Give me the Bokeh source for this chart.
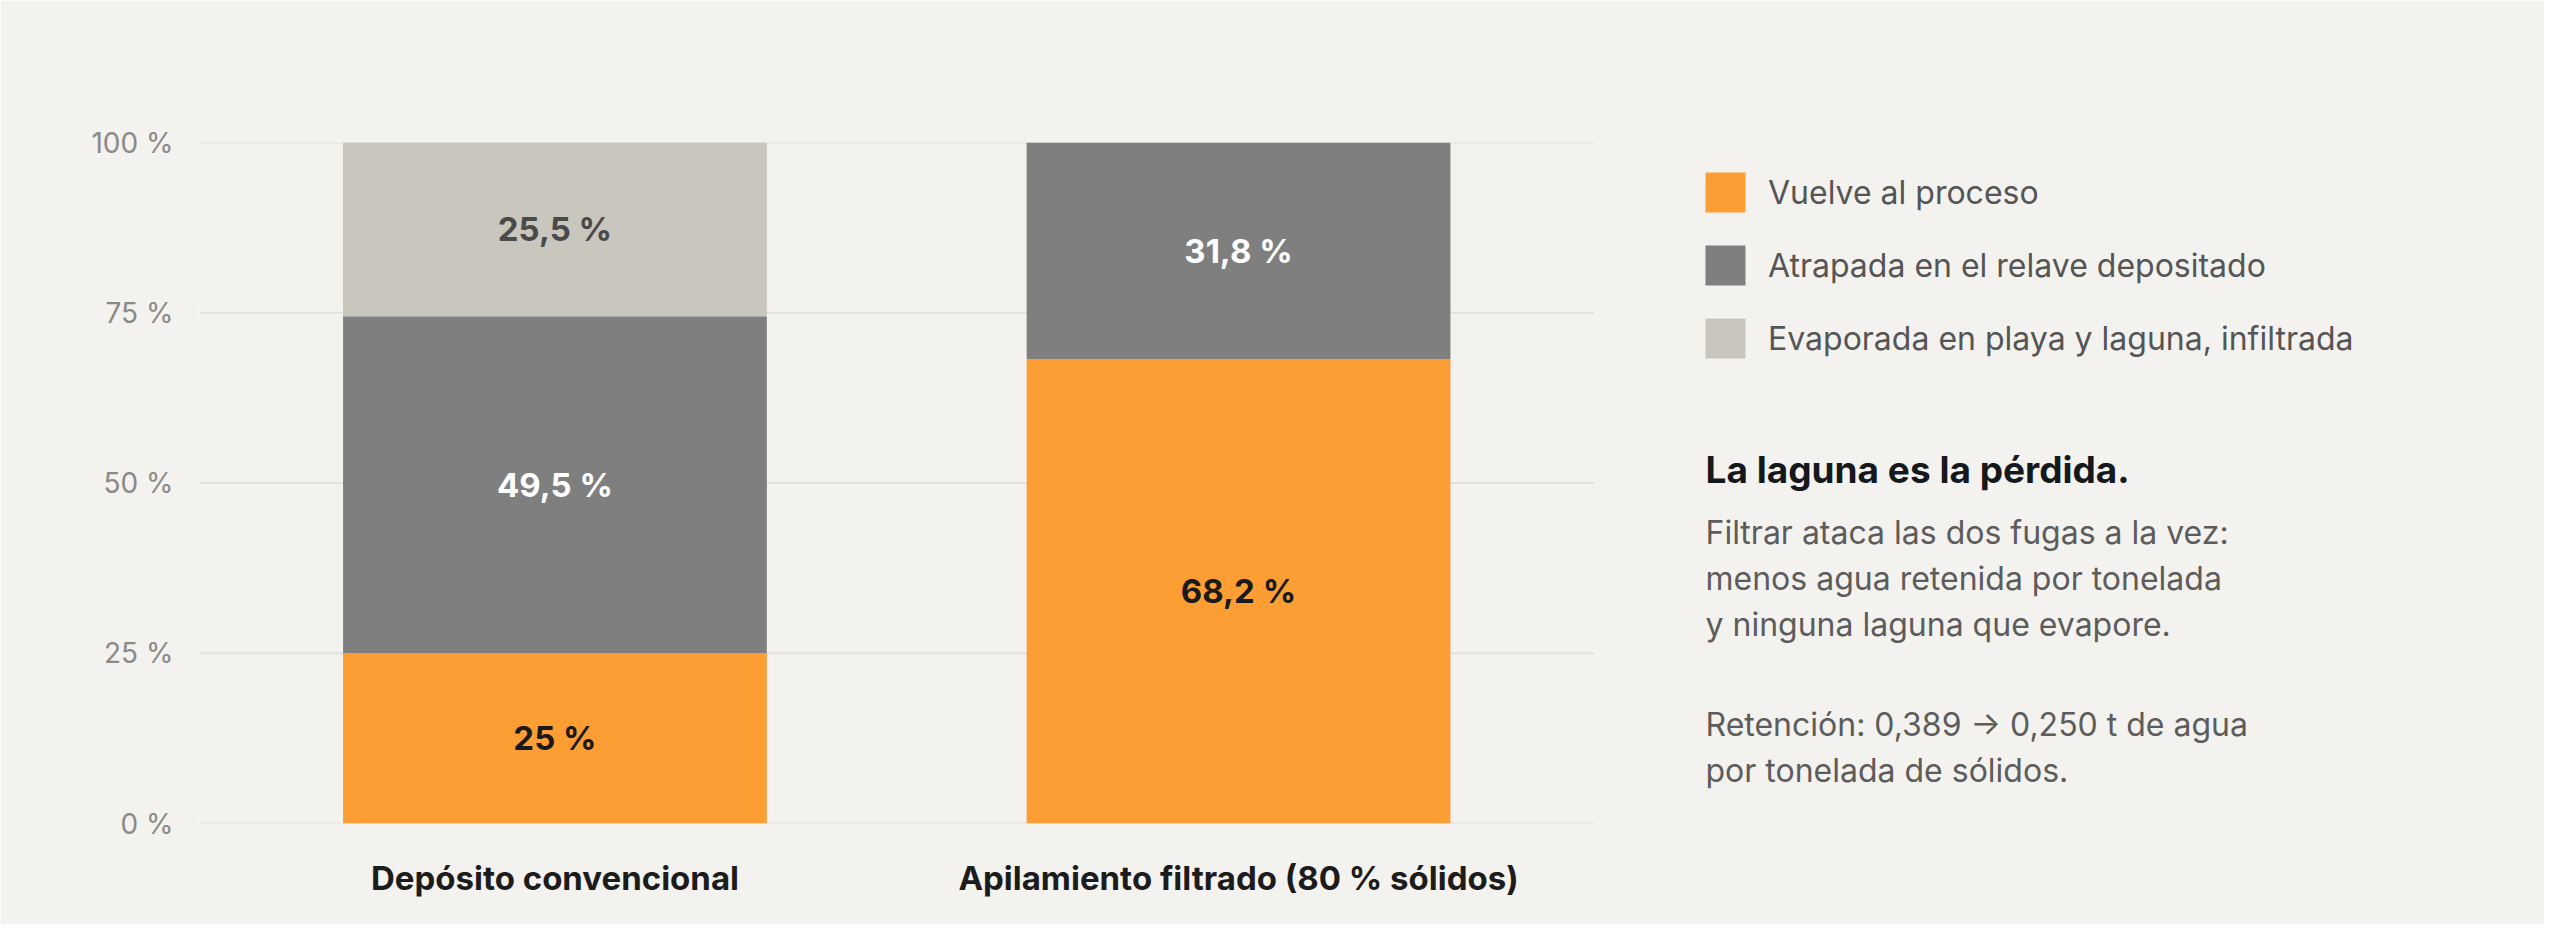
from bokeh.plotting import figure
from bokeh.models import Range1d, ColumnDataSource, FixedTicker, Legend, Label
from bokeh.core.properties import value
from bokeh.embed import file_html
from bokeh.resources import INLINE

# data
cats = ["Depósito convencional", "Apilamiento filtrado (80 % sólidos)"]
series = ["Vuelve al proceso", "Atrapada en el relave depositado",
          "Evaporada en playa y laguna, infiltrada"]
vuelve = [25, 68.2]
atrapada = [49.5, 31.8]
evaporada = [25.5, 0]
colors = ["#fd9e34", "#807f7f", "#c8c6bd"]
label_colors = ["#1a1a1a", "#ffffff", "#4a4a4a"]
y_ticks = [0, 25, 50, 75, 100]
y_tick_labels = ["0 %", "25 %", "50 %", "75 %", "100 %"]

note_title = "La laguna es la pérdida."
note_paras = [["Filtrar ataca las dos fugas a la vez:",
               "menos agua retenida por tonelada",
               "y ninguna laguna que evapore."],
              ["Retención: 0,389 → 0,250 t de agua",
               "por tonelada de sólidos."]]

BG = "#f3f2ee"
FONT = "Inter"

# bar centres on a numeric axis so the frame can also hold the legend and note
xpos = [i + 0.5 for i in range(len(cats))]

p = figure(x_range=Range1d(-0.02, 3.39), y_range=Range1d(0, 100),
           width=2544, height=924, output_backend="svg", toolbar_location=None,
           min_border_left=199, min_border_right=14, min_border_top=142,
           min_border_bottom=101)
p.background_fill_color = BG
p.border_fill_color = BG
p.outline_line_color = None
p.grid.grid_line_color = None

# horizontal grid lines under the bars only
p.segment(x0=-0.02, x1=len(cats) + 0.02, y0=y_ticks, y1=y_ticks,
          line_color="#e2e0db", line_width=2)

src = ColumnDataSource(dict(x=xpos, v=vuelve, a=atrapada, e=evaporada))
bars = p.vbar_stack(["v", "a", "e"], x="x", width=0.62, source=src,
                    color=colors, line_color=None)

# labels inside the segments
lx, ly, lt, lc = [], [], [], []
for i, xc in enumerate(xpos):
    base = 0
    for vals, col in zip([vuelve, atrapada, evaporada], label_colors):
        v = vals[i]
        if v > 0:
            lx.append(xc)
            ly.append(base + v / 2)
            lt.append(f"{v:g}".replace(".", ",") + " %")
            lc.append(col)
        base += v
p.text(x=lx, y=ly, text=lt, text_color=lc, text_align="center",
       text_baseline="middle", text_font=value(FONT), text_font_style="bold",
       text_font_size="33px")

# axes
p.yaxis.ticker = FixedTicker(ticks=y_ticks)
p.yaxis.major_label_overrides = dict(zip(y_ticks, y_tick_labels))
p.yaxis.major_label_text_font = FONT
p.yaxis.major_label_text_font_size = "28px"
p.yaxis.major_label_text_color = "#8a8a87"
p.yaxis.major_label_standoff = 20
p.xaxis.ticker = FixedTicker(ticks=xpos)
p.xaxis.major_label_overrides = dict(zip(xpos, cats))
p.xaxis.major_label_text_font = FONT
p.xaxis.major_label_text_font_size = "33px"
p.xaxis.major_label_text_font_style = "bold"
p.xaxis.major_label_text_color = "#1c1c1c"
p.xaxis.major_label_standoff = 28
for ax in (p.xaxis, p.yaxis):
    ax.axis_line_color = None
    ax.major_tick_line_color = None
    ax.minor_tick_line_color = None

# legend to the right of the bars
legend = Legend(items=[(name, [r]) for name, r in zip(series, bars)],
                location=(1501, 460), orientation="vertical",
                glyph_width=50, glyph_height=50, spacing=23, padding=0, margin=0,
                label_standoff=18, label_text_font=FONT, label_text_font_size="32px",
                label_text_color="#555555", border_line_color=None,
                background_fill_alpha=0)
p.add_layout(legend)

# note text
p.add_layout(Label(x=1506, y=354, x_units="screen", y_units="screen", text=note_title,
                   text_baseline="alphabetic", text_font=FONT, text_font_style="bold",
                   text_font_size="37px", text_color="#15191d"))
y = 291
for para in note_paras:
    for line in para:
        p.add_layout(Label(x=1506, y=y, x_units="screen", y_units="screen",
                           text=line, text_baseline="alphabetic", text_font=FONT,
                           text_font_size="32px", text_color="#5c5c5c"))
        y -= 46
    y -= 54

open("out.html", "w").write(file_html(p, INLINE))
